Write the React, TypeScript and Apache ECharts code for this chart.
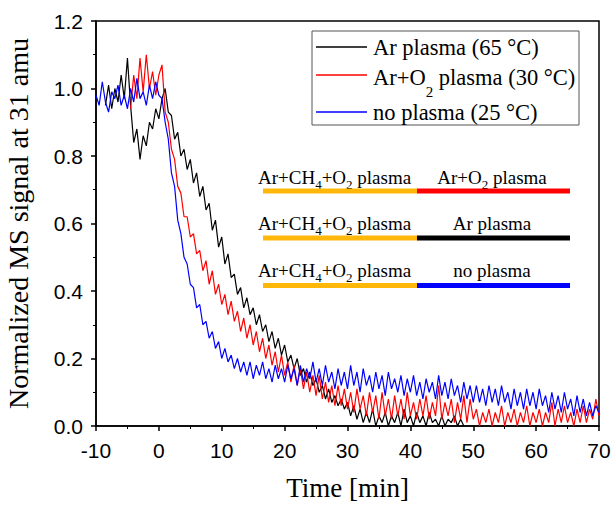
import React, { useEffect, useRef } from "react";
import * as echarts from "echarts";

// sampling: one reading every 0.5 min
const TIME_STEP = 0.5;
const X_TICKS = [-10, 0, 10, 20, 30, 40, 50, 60, 70];
const Y_TICKS = [0, 0.2, 0.4, 0.6, 0.8, 1.0, 1.2];

const SERIES_NAMES = ["Ar plasma (65 °C)", "Ar+O2 plasma (30 °C)", "no plasma (25 °C)"];

// Ar plasma (65 °C), starts at -8.5 min
const BLACK_START = -8.5;
const blackValues = [
  0.95, 1.01, 0.94, 1.0, 0.96, 1.04, 0.97, 1.09, 0.95, 0.84, 0.88, 0.79, 0.86, 0.83, 0.9, 0.88, 0.94, 0.91,
  0.97, 1.0, 0.93, 0.92, 0.85, 0.87, 0.8, 0.82, 0.76, 0.79, 0.72, 0.75, 0.68, 0.71, 0.64, 0.66, 0.58, 0.61,
  0.53, 0.56, 0.48, 0.51, 0.44, 0.45, 0.39, 0.41, 0.35, 0.38, 0.33, 0.35, 0.3, 0.33, 0.28, 0.3, 0.25, 0.28,
  0.23, 0.26, 0.21, 0.24, 0.19, 0.21, 0.17, 0.2, 0.15, 0.17, 0.13, 0.16, 0.12, 0.14, 0.1, 0.12, 0.08, 0.11,
  0.07, 0.09, 0.06, 0.08, 0.05, 0.07, 0.03, 0.06, 0.02, 0.05, 0.01, 0.04, 0.01, 0.05, 0.0, 0.03, 0.01, 0.04,
  0.0, 0.03, 0.01, 0.04, 0.0, 0.05, 0.01, 0.03, 0.0, 0.04, 0.01, 0.03, 0.0, 0.04, 0.01, 0.02, 0.0, 0.03,
  0.0, 0.02, 0.01, 0.03, 0.0, 0.02, 0.0,
];

// Ar+O2 plasma (30 °C), starts at -4.5 min
const RED_START = -4.5;
const redValues = [
  0.94, 1.04, 0.97, 1.09, 0.99, 1.1, 1.0, 1.05, 0.98, 1.04, 1.07, 0.93, 0.9, 0.82, 0.79, 0.71, 0.69, 0.62,
  0.62, 0.56, 0.57, 0.51, 0.52, 0.46, 0.49, 0.42, 0.46, 0.39, 0.42, 0.36, 0.39, 0.33, 0.37, 0.31, 0.34, 0.28,
  0.32, 0.26, 0.3, 0.24, 0.28, 0.22, 0.26, 0.2, 0.24, 0.18, 0.22, 0.16, 0.21, 0.15, 0.19, 0.13, 0.18, 0.12,
  0.17, 0.11, 0.16, 0.1, 0.15, 0.09, 0.15, 0.08, 0.13, 0.07, 0.12, 0.06, 0.12, 0.06, 0.11, 0.05, 0.1, 0.04,
  0.11, 0.05, 0.09, 0.03, 0.1, 0.04, 0.09, 0.02, 0.1, 0.03, 0.08, 0.02, 0.09, 0.03, 0.08, 0.02, 0.1, 0.03,
  0.07, 0.02, 0.08, 0.03, 0.09, 0.02, 0.07, 0.03, 0.12, 0.02, 0.07, 0.03, 0.08, 0.01, 0.07, 0.02, 0.09, 0.01,
  0.08, 0.02, 0.05, 0.0, 0.04, 0.01, 0.05, 0.0, 0.04, 0.01, 0.06, 0.0, 0.04, 0.01, 0.05, 0.0, 0.04, 0.01,
  0.06, 0.0, 0.04, 0.01, 0.05, 0.0, 0.04, 0.01, 0.07, 0.0, 0.05, 0.01, 0.06, 0.01, 0.04, 0.0, 0.05, 0.01,
  0.06, 0.01, 0.05, 0.02, 0.08, 0.03,
];

// no plasma (25 °C), starts at -10 min
const BLUE_START = -10;
const blueValues = [
  0.98, 0.95, 1.02, 0.96, 0.93, 0.99, 0.97, 1.01, 0.95, 0.98, 0.94, 1.0, 0.96, 1.03, 0.97, 0.99, 0.95, 1.01,
  0.97, 1.02, 0.98, 0.97, 0.9, 0.85, 0.75, 0.71, 0.61, 0.57, 0.5, 0.48, 0.42, 0.41, 0.35, 0.36, 0.3, 0.31,
  0.26, 0.28, 0.23, 0.25, 0.2, 0.23, 0.19, 0.21, 0.17, 0.2, 0.16, 0.19, 0.15, 0.19, 0.14, 0.18, 0.15, 0.19,
  0.14, 0.17, 0.13, 0.18, 0.14, 0.17, 0.13, 0.18, 0.14, 0.17, 0.12, 0.18, 0.13, 0.17, 0.14, 0.19, 0.13, 0.17,
  0.12, 0.18, 0.13, 0.16, 0.11, 0.17, 0.12, 0.16, 0.11, 0.18, 0.12, 0.16, 0.1, 0.17, 0.12, 0.15, 0.1, 0.16,
  0.11, 0.15, 0.09, 0.16, 0.11, 0.14, 0.1, 0.15, 0.09, 0.14, 0.1, 0.15, 0.09, 0.13, 0.08, 0.14, 0.1, 0.13,
  0.08, 0.15, 0.09, 0.13, 0.08, 0.14, 0.09, 0.12, 0.07, 0.13, 0.08, 0.12, 0.07, 0.12, 0.07, 0.11, 0.06, 0.12,
  0.07, 0.11, 0.06, 0.12, 0.07, 0.1, 0.05, 0.11, 0.06, 0.1, 0.05, 0.11, 0.06, 0.1, 0.05, 0.11, 0.06, 0.09,
  0.04, 0.1, 0.05, 0.09, 0.04, 0.1, 0.05, 0.08, 0.03, 0.09, 0.04, 0.08, 0.03, 0.07, 0.03, 0.06, 0.04,
];

// annotation rows
const ANNOT_LEFT = "{n|Ar+CH}{s|4}{n|+O}{s|2}{n| plasma}";
const ANNOT_RIGHT = ["{n|Ar+O}{s|2}{n| plasma}", "{n|Ar plasma}", "{n|no plasma}"];
const ANNOT_COLORS = ["#FF0000", "#000000", "#0000FF"];
const LINE_COLORS = ["#000000", "#FF0000", "#0000FF"];

const SERIF = "'Liberation Serif', 'Times New Roman', serif";
const SANS = "'Liberation Sans', Arial, sans-serif";

const toPairs = (start: number, vals: number[]) =>
  vals.map((v, i) => [start + i * TIME_STEP, v]);

export default function App() {
  const ref = useRef<HTMLDivElement>(null);

  useEffect(() => {
    if (!ref.current) return;
    const chart = echarts.init(ref.current, undefined, { renderer: "svg" });

    const annRich = {
      n: { fontFamily: SERIF, fontSize: 19, color: "#000", lineHeight: 24 },
      s: { fontFamily: SERIF, fontSize: 13, color: "#000", verticalAlign: "bottom", lineHeight: 24, padding: [0, 0, -2, 0] },
    };
    const legRich = {
      n: { fontFamily: SERIF, fontSize: 22.5, color: "#000", lineHeight: 28 },
      s: { fontFamily: SERIF, fontSize: 15, color: "#000", verticalAlign: "bottom", lineHeight: 28, padding: [0, 0, -8, 0] },
    };
    const legendTexts = [
      "{n|Ar plasma (65 °C)}",
      "{n|Ar+O}{s|2}{n| plasma (30 °C)}",
      "{n|no plasma (25 °C)}",
    ];
    const legendRowsY = [47, 75, 112];
    const annRowsY = [177, 223, 270];
    const annBarsY = [191, 238, 285.5];

    const graphics: any[] = [
      {
        type: "rect",
        shape: { x: 312, y: 31, width: 267, height: 94 },
        style: { fill: "#fff", stroke: "#555", lineWidth: 1 },
        z: 10,
      },
    ];
    legendRowsY.forEach((y, i) => {
      graphics.push({
        type: "line",
        shape: { x1: 316, y1: y, x2: 367, y2: y },
        style: { stroke: LINE_COLORS[i], lineWidth: 1.5 },
        z: 11,
      });
      graphics.push({
        type: "text",
        x: 373,
        y: i === 1 ? y + 2 : y,
        style: { text: legendTexts[i], rich: legRich, align: "left", verticalAlign: "middle" },
        z: 11,
      });
    });
    annRowsY.forEach((y, i) => {
      graphics.push({
        type: "text",
        x: 258,
        y,
        style: { text: ANNOT_LEFT, rich: annRich, align: "left", verticalAlign: "middle" },
        z: 11,
      });
      graphics.push({
        type: "text",
        x: 492,
        y,
        style: { text: ANNOT_RIGHT[i], rich: annRich, align: "center", verticalAlign: "middle" },
        z: 11,
      });
      graphics.push({
        type: "line",
        shape: { x1: 263, y1: annBarsY[i], x2: 417, y2: annBarsY[i] },
        style: { stroke: "#FFB80A", lineWidth: 5 },
        z: 11,
      });
      graphics.push({
        type: "line",
        shape: { x1: 417, y1: annBarsY[i], x2: 570, y2: annBarsY[i] },
        style: { stroke: ANNOT_COLORS[i], lineWidth: 5 },
        z: 11,
      });
    });

    chart.setOption({
      animation: false,
      backgroundColor: "#fff",
      grid: {
        left: 96,
        right: 15,
        top: 21,
        bottom: 79,
        containLabel: false,
        outerBoundsMode: "none",
        show: true,
        borderColor: "#000",
        borderWidth: 1.5,
      },
      xAxis: {
        type: "value",
        min: X_TICKS[0],
        max: X_TICKS[X_TICKS.length - 1],
        interval: 10,
        name: "Time [min]",
        nameLocation: "middle",
        nameGap: 48,
        nameTextStyle: { fontFamily: SERIF, fontSize: 27, color: "#000" },
        axisLine: { onZero: false, lineStyle: { color: "#000", width: 1.5 } },
        axisTick: { show: true, inside: false, length: 5, lineStyle: { color: "#000", width: 1.5 } },
        minorTick: { show: true, splitNumber: 2, length: 3, lineStyle: { color: "#000", width: 1 } },
        splitLine: { show: false },
        axisLabel: { fontFamily: SANS, fontSize: 21, color: "#000", margin: 14 },
      },
      yAxis: {
        type: "value",
        min: Y_TICKS[0],
        max: Y_TICKS[Y_TICKS.length - 1],
        interval: 0.2,
        name: "Normalized MS signal at 31 amu",
        nameLocation: "middle",
        nameRotate: 90,
        nameGap: 64,
        nameTextStyle: { fontFamily: SERIF, fontSize: 28, color: "#000" },
        axisLine: { show: true, onZero: false, lineStyle: { color: "#000", width: 1.5 } },
        axisTick: { show: true, inside: false, length: 5, lineStyle: { color: "#000", width: 1.5 } },
        minorTick: { show: true, splitNumber: 2, length: 3, lineStyle: { color: "#000", width: 1 } },
        splitLine: { show: false },
        axisLabel: {
          fontFamily: SANS,
          fontSize: 21,
          color: "#000",
          margin: 13,
          formatter: (v: number) => v.toFixed(1),
        },
      },
      series: [
        { name: SERIES_NAMES[0], data: toPairs(BLACK_START, blackValues), color: LINE_COLORS[0] },
        { name: SERIES_NAMES[1], data: toPairs(RED_START, redValues), color: LINE_COLORS[1] },
        { name: SERIES_NAMES[2], data: toPairs(BLUE_START, blueValues), color: LINE_COLORS[2] },
      ].map((s) => ({
        ...s,
        type: "line",
        symbol: "none",
        lineStyle: { width: 1.2, color: s.color },
        itemStyle: { color: s.color },
        clip: true,
      })),
      graphic: graphics,
    });

    return () => chart.dispose();
  }, []);

  return (
    <div
      ref={ref}
      style={{ position: "fixed", left: 0, top: 0, width: 614, height: 505 }}
    />
  );
}
